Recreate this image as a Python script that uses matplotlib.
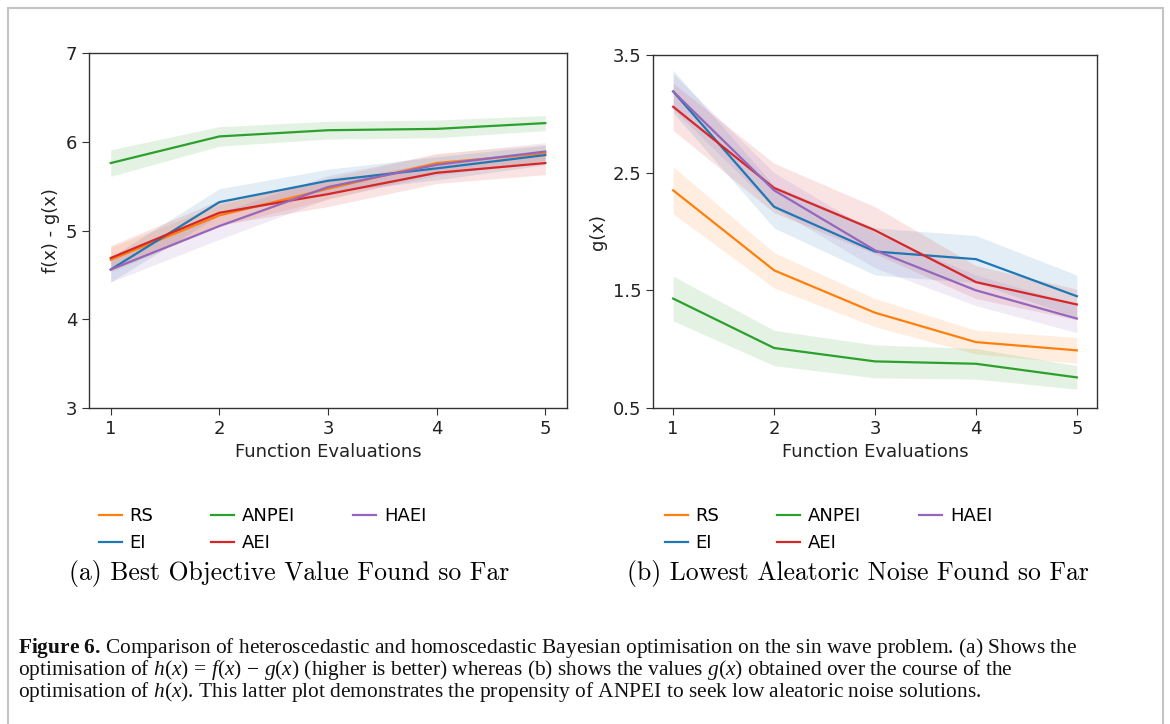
"""Best objective / lowest noise curves for the sin wave BO comparison (Figure 6)."""

import matplotlib
matplotlib.use("Agg")
import matplotlib.pyplot as plt
from matplotlib.patches import Rectangle

evals = [1, 2, 3, 4, 5]
methods = ["RS", "EI", "ANPEI", "AEI", "HAEI"]
colors = {"RS": "#ff7f0e", "EI": "#1f77b4", "ANPEI": "#2ca02c",
          "AEI": "#d62728", "HAEI": "#9467bd"}

# (a) best objective value f(x) - g(x): mean and half-width of the band
obj_mean = {
    "RS": [4.67, 5.17, 5.47, 5.76, 5.87],
    "EI": [4.56, 5.32, 5.56, 5.70, 5.85],
    "ANPEI": [5.76, 6.06, 6.13, 6.145, 6.21],
    "AEI": [4.69, 5.20, 5.41, 5.65, 5.76],
    "HAEI": [4.56, 5.05, 5.49, 5.74, 5.89],
}
obj_err = {
    "RS": [0.14, 0.12, 0.12, 0.11, 0.10],
    "EI": [0.14, 0.15, 0.13, 0.13, 0.11],
    "ANPEI": [0.15, 0.11, 0.10, 0.10, 0.085],
    "AEI": [0.14, 0.14, 0.14, 0.12, 0.13],
    "HAEI": [0.14, 0.15, 0.13, 0.12, 0.10],
}

# (b) lowest aleatoric noise g(x)
noise_mean = {
    "RS": [2.35, 1.67, 1.31, 1.06, 0.99],
    "EI": [3.19, 2.21, 1.83, 1.765, 1.45],
    "ANPEI": [1.43, 1.01, 0.896, 0.876, 0.76],
    "AEI": [3.06, 2.37, 2.01, 1.57, 1.38],
    "HAEI": [3.19, 2.35, 1.84, 1.50, 1.26],
}
noise_err = {
    "RS": [0.20, 0.15, 0.12, 0.10, 0.11],
    "EI": [0.18, 0.18, 0.20, 0.20, 0.18],
    "ANPEI": [0.19, 0.15, 0.14, 0.13, 0.10],
    "AEI": [0.20, 0.21, 0.20, 0.14, 0.13],
    "HAEI": [0.15, 0.15, 0.15, 0.13, 0.12],
}

obj_ticks = [3, 4, 5, 6, 7]
noise_ticks = [0.5, 1.5, 2.5, 3.5]

caption = [
    r"$\mathbf{Figure\ 6.}\,$Comparison of heteroscedastic and homoscedastic "
    r"Bayesian optimisation on the sin wave problem. (a) Shows the",
    r"optimisation of $h(x)\,=\,f(x)\,-\,g(x)$ (higher is better) whereas (b) "
    r"shows the values $g(x)$ obtained over the course of the",
    r"optimisation of $h(x)$. This latter plot demonstrates the propensity "
    r"of ANPEI to seek low aleatoric noise solutions.",
]

plt.rcParams["mathtext.fontset"] = "custom"
plt.rcParams["mathtext.rm"] = "Liberation Serif"
plt.rcParams["mathtext.it"] = "Liberation Serif:italic"
plt.rcParams["mathtext.bf"] = "Liberation Serif:bold"

W, H = 1170, 724
fig = plt.figure(figsize=(W / 100, H / 100), dpi=100)

# thin grey frame round the whole figure
fig.patches.append(Rectangle((8 / W, -0.05), (1163 - 8) / W, 1 - 8 / H + 0.05,
                             transform=fig.transFigure, fill=False,
                             edgecolor="#c4c4c4", linewidth=1.5))


def panel(rect, means, errs, ylim, yticks, ylabel, sub, sub_x, legend_x):
    ax = fig.add_axes(rect)
    for m in methods:
        lo = [a - e for a, e in zip(means[m], errs[m])]
        hi = [a + e for a, e in zip(means[m], errs[m])]
        ax.fill_between(evals, lo, hi, color=colors[m], alpha=0.13, lw=0)
    lines = []
    for m in methods:
        ln, = ax.plot(evals, means[m], color=colors[m], lw=1.6, label=m)
        lines.append(ln)
    ax.set_xlim(0.8, 5.2)
    ax.set_ylim(*ylim)
    ax.set_xticks(evals)
    ax.set_yticks(yticks)
    ax.set_yticklabels([f"{t:g}" for t in yticks])
    ax.tick_params(labelsize=13, length=5, color="#333333", labelcolor="#222222")
    for s in ax.spines.values():
        s.set_color("#333333")
        s.set_linewidth(1.0)
    ax.set_xlabel("Function Evaluations", fontsize=13, color="#222222", labelpad=4)
    ax.set_ylabel(ylabel, fontsize=13, color="#222222")
    fig.legend(lines, methods, ncol=3, frameon=False, fontsize=13,
               loc="upper left", bbox_to_anchor=(legend_x / W, 1 - 498 / H),
               borderpad=0, handlelength=1.25, handletextpad=0.45,
               columnspacing=3.2, labelspacing=0.5)
    fig.text(sub_x / W, 1 - 580 / H, sub, family="cmr10", fontsize=18.5,
             ha="center", va="baseline")
    return ax


panel([89 / W, 1 - 408 / H, (567 - 89) / W, (408 - 53) / H],
      obj_mean, obj_err, (3, 7), obj_ticks, "f(x) - g(x)",
      "(a) Best Objective Value Found so Far", 289, 90)
panel([653 / W, 1 - 408 / H, (1097 - 653) / W, (408 - 55) / H],
      noise_mean, noise_err, (0.5, 3.5), noise_ticks, "g(x)",
      "(b) Lowest Aleatoric Noise Found so Far", 858, 656)

for i, line in enumerate(caption):
    fig.text(18 / W, 1 - (653 + 22 * i) / H, line, family="Liberation Serif",
             fontsize=15.4, ha="left", va="baseline", color="#111111")

fig.savefig("out.png", dpi=100)
